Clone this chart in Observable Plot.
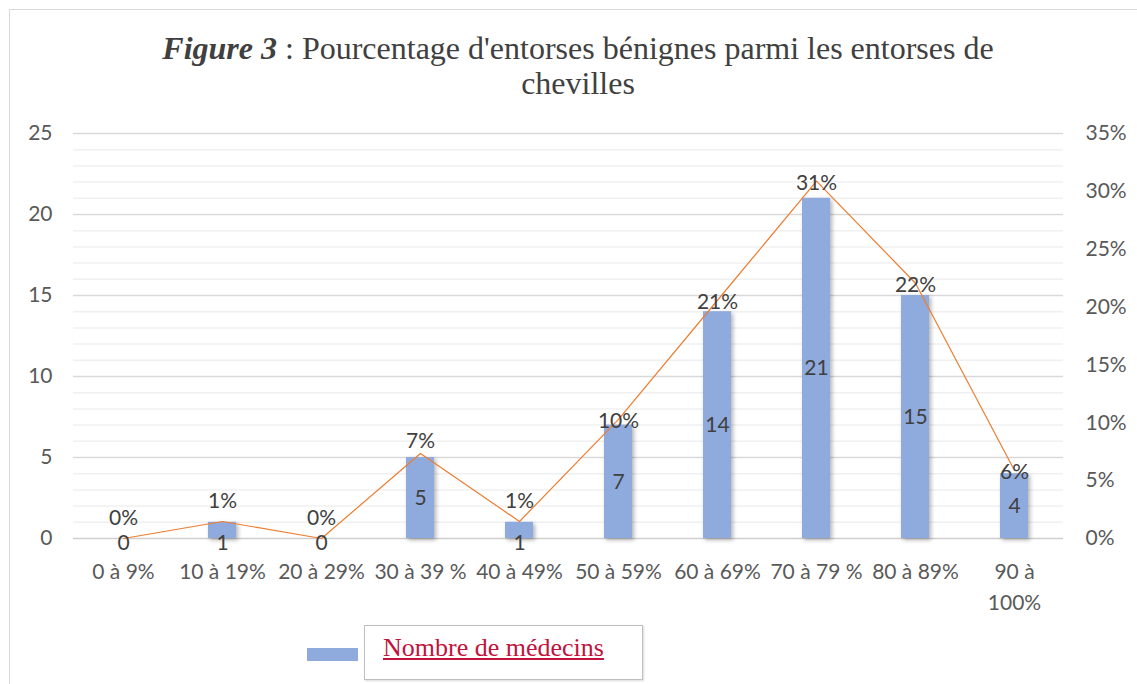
<!DOCTYPE html>
<html>
<head>
<meta charset="utf-8">
<script src="https://cdn.jsdelivr.net/npm/d3@7"></script>
<script src="https://cdn.jsdelivr.net/npm/@observablehq/plot@0.6"></script>
<style>
  html, body { margin: 0; padding: 0; background: #fff; }
  #page { position: relative; width: 1137px; height: 684px; overflow: hidden; }
  #frame { position: absolute; left: 9px; top: 9px; width: 1200px; height: 700px; border: 1px solid #d9d9d9; box-sizing: border-box; }
  #title { position: relative; box-sizing: border-box; height: 118px; padding-top: 31px; padding-left: 19px; width: 1137px;
           text-align: center; font-family: "Liberation Serif", "Times New Roman", serif; font-size: 32px; line-height: 35px; color: #404040; }
  #title .fig { font-weight: bold; font-style: italic; }
  #chart { position: relative; }
  #legend-swatch { position: absolute; left: 307px; top: 648px; width: 51px; height: 13px; background: #8faadc; }
  #legend-box { position: absolute; left: 364px; top: 625px; width: 279px; height: 55px; box-sizing: border-box;
                border: 1px solid #bfbfbf; box-shadow: 1px 1px 2px rgba(0,0,0,0.15); background: #fff; }
  #legend-text { position: absolute; left: 18px; top: 7px; font-family: "Liberation Serif", "Times New Roman", serif;
                 font-size: 26px; color: #c0143c; text-decoration: underline; white-space: nowrap; }
</style>
</head>
<body>
<div id="page">
  <div id="frame"></div>
  <div id="title"><span class="fig">Figure 3</span> : Pourcentage d'entorses bénignes parmi les entorses de<br>chevilles</div>
  <div id="chart"></div>
  <div id="legend-swatch"></div>
  <div id="legend-box"><span id="legend-text">Nombre de médecins</span></div>
</div>
<script>
const categories = ["0 à 9%", "10 à 19%", "20 à 29%", "30 à 39 %", "40 à 49%", "50 à 59%", "60 à 69%", "70 à 79 %", "80 à 89%", "90 à 100%"];
const counts = [0, 1, 0, 5, 1, 7, 14, 21, 15, 4];
const percents = [0, 1.47, 0, 7.35, 1.47, 10.29, 20.59, 30.88, 22.06, 5.88];
const percentLabels = ["0%", "1%", "0%", "7%", "1%", "10%", "21%", "31%", "22%", "6%"];
const leftTicks = [0, 5, 10, 15, 20, 25];
const rightTicks = [0, 5, 10, 15, 20, 25, 30, 35];
const leftMax = 25, rightMax = 35;

const data = categories.map((cat, i) => ({cat, count: counts[i], pct: percents[i], pctLabel: percentLabels[i]}));
const toLeft = p => p * leftMax / rightMax;
const minorTicks = d3.range(0, leftMax + 1).filter(v => v % 5 !== 0);

const labelFont = {fontFamily: "Lato, sans-serif", fontSize: 21, fill: "#404040"};

const chart = Plot.plot({
  width: 1137,
  height: 500,
  marginLeft: 73,
  marginRight: 74,
  marginTop: 15,
  marginBottom: 80,
  style: {fontFamily: "Lato, sans-serif", fontSize: "21px", color: "#595959", background: "transparent", overflow: "visible"},
  x: {domain: categories, paddingInner: 0.72, paddingOuter: 0.36, label: null},
  y: {domain: [0, leftMax], label: null},
  marks: [
    Plot.ruleY(minorTicks, {stroke: "#f0f0f0", strokeWidth: 1.5}),
    Plot.ruleY(leftTicks.filter(v => v > 0), {stroke: "#d9d9d9", strokeWidth: 1.5}),
    Plot.ruleY([0], {stroke: "#d0d0d0", strokeWidth: 1.5}),
    Plot.axisY(leftTicks, {anchor: "left", tickSize: 0, tickPadding: 21, label: null, fill: "#595959"}),
    Plot.axisY(rightTicks.map(toLeft), {anchor: "right", tickSize: 0, tickPadding: 22, label: null, fill: "#595959",
      tickFormat: d => Math.round(d * rightMax / leftMax) + "%"}),
    Plot.axisX({tickSize: 0, tickPadding: 19, label: null, fill: "#595959", lineHeight: 1.45,
      tickFormat: d => d === "90 à 100%" ? "90 à\n100%" : d}),
    Plot.barY(data, {x: "cat", y: "count", fill: "#8faadc"}),
    Plot.line(data, {x: "cat", y: d => toLeft(d.pct), stroke: "#ed7d31", strokeWidth: 1.2}),
    // bar value labels
    Plot.text(data.filter(d => d.count >= 2), {x: "cat", y: d => d.count / 2, text: d => String(d.count), ...labelFont}),
    Plot.text(data.filter(d => d.count < 2), {x: "cat", y: 0, dy: 5, text: d => String(d.count), ...labelFont}),
    // percentage labels
    Plot.text(data.filter(d => d.pct < 5), {x: "cat", y: d => toLeft(d.pct), dy: -20, text: "pctLabel", ...labelFont}),
    Plot.text(data.filter(d => d.pct > 7 && d.pct < 10), {x: "cat", y: d => toLeft(d.pct), dy: -12, text: "pctLabel", ...labelFont}),
    Plot.text(data.filter(d => d.pct >= 10 || (d.pct > 5 && d.pct < 7)), {x: "cat", y: d => toLeft(d.pct), dy: 2, text: "pctLabel", ...labelFont})
  ]
});

const barGroup = chart.querySelector('g[aria-label="bar"]');
if (barGroup) barGroup.style.filter = "drop-shadow(2px 2px 2px rgba(0,0,0,0.3))";
document.getElementById("chart").appendChild(chart);
</script>
</body>
</html>
